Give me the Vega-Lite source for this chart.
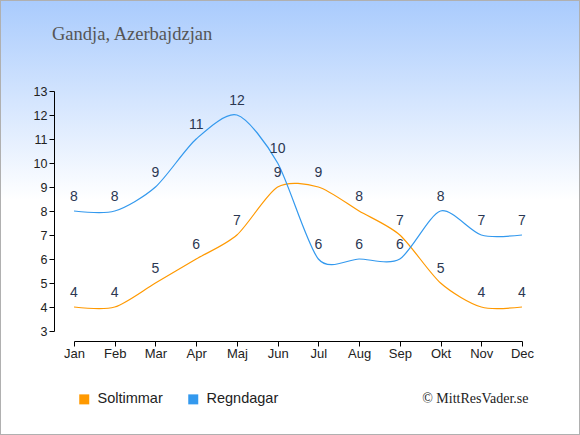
{
  "$schema": "https://vega.github.io/schema/vega-lite/v6.json",
  "width": 448,
  "height": 240,
  "autosize": {"type": "none"},
  "padding": {"left": 74, "top": 91, "right": 58, "bottom": 104},
  "background": "white",
  "title": {
    "text": "Gandja, Azerbajdzjan",
    "anchor": "start",
    "frame": "group",
    "font": "Liberation Serif",
    "fontSize": 18.5,
    "fontWeight": "normal",
    "color": "#555555",
    "dx": -22,
    "offset": -59,
    "baseline": "alphabetic",
    "zindex": 1
  },
  "config": {"view": {"stroke": null}},
  "data": {
    "values": [
      {"m": 1, "month": "Jan", "serie": "Soltimmar", "value": 4},
      {"m": 2, "month": "Feb", "serie": "Soltimmar", "value": 4},
      {"m": 3, "month": "Mar", "serie": "Soltimmar", "value": 5},
      {"m": 4, "month": "Apr", "serie": "Soltimmar", "value": 6},
      {"m": 5, "month": "Maj", "serie": "Soltimmar", "value": 7},
      {"m": 6, "month": "Jun", "serie": "Soltimmar", "value": 9},
      {"m": 7, "month": "Jul", "serie": "Soltimmar", "value": 9},
      {"m": 8, "month": "Aug", "serie": "Soltimmar", "value": 8},
      {"m": 9, "month": "Sep", "serie": "Soltimmar", "value": 7},
      {"m": 10, "month": "Okt", "serie": "Soltimmar", "value": 5},
      {"m": 11, "month": "Nov", "serie": "Soltimmar", "value": 4},
      {"m": 12, "month": "Dec", "serie": "Soltimmar", "value": 4},
      {"m": 1, "month": "Jan", "serie": "Regndagar", "value": 8},
      {"m": 2, "month": "Feb", "serie": "Regndagar", "value": 8},
      {"m": 3, "month": "Mar", "serie": "Regndagar", "value": 9},
      {"m": 4, "month": "Apr", "serie": "Regndagar", "value": 11},
      {"m": 5, "month": "Maj", "serie": "Regndagar", "value": 12},
      {"m": 6, "month": "Jun", "serie": "Regndagar", "value": 10},
      {"m": 7, "month": "Jul", "serie": "Regndagar", "value": 6},
      {"m": 8, "month": "Aug", "serie": "Regndagar", "value": 6},
      {"m": 9, "month": "Sep", "serie": "Regndagar", "value": 6},
      {"m": 10, "month": "Okt", "serie": "Regndagar", "value": 8},
      {"m": 11, "month": "Nov", "serie": "Regndagar", "value": 7},
      {"m": 12, "month": "Dec", "serie": "Regndagar", "value": 7}
    ]
  },
  "layer": [
    {
      "data": {"values": [{}]},
      "mark": {
        "type": "rect",
        "fill": {
          "gradient": "linear",
          "x1": 0, "y1": 0, "x2": 0, "y2": 1,
          "stops": [
            {"offset": 0, "color": "#a9cbfd"},
            {"offset": 0.46, "color": "#ffffff"},
            {"offset": 1, "color": "#ffffff"}
          ]
        },
        "stroke": "#b0b0b0",
        "strokeWidth": 2
      },
      "encoding": {
        "x": {
          "datum": -0.817, "type": "quantitative",
          "scale": {"domain": [1, 12], "nice": false, "zero": false},
          "axis": {
            "values": [1, 2, 3, 4, 5, 6, 7, 8, 9, 10, 11, 12],
            "labelExpr": "['Jan','Feb','Mar','Apr','Maj','Jun','Jul','Aug','Sep','Okt','Nov','Dec'][datum.value - 1]",
            "offset": 10, "tickSize": 5, "labelPadding": 1, "labelAngle": 0,
            "labelFlush": false, "labelOverlap": false,
            "labelFont": "Liberation Sans", "labelFontSize": 13, "labelColor": "#222222",
            "domainColor": "#000000", "tickColor": "#000000", "grid": false, "zindex": 1,
            "title": "© MittResVader.se", "titleX": 454, "titleY": 57, "titleAlign": "right", "titleBaseline": "middle",
            "titleFont": "Liberation Serif", "titleFontSize": 14, "titleFontWeight": "normal", "titleColor": "#222222"
          }
        },
        "x2": {"datum": 13.424},
        "y": {
          "datum": 16.79, "type": "quantitative",
          "scale": {"domain": [3, 13], "nice": false, "zero": false},
          "axis": {
            "values": [3, 4, 5, 6, 7, 8, 9, 10, 11, 12, 13],
            "offset": 20, "tickSize": 5, "labelPadding": 2,
            "labelFlush": false, "labelOverlap": false,
            "labelFont": "Liberation Sans", "labelFontSize": 12.5, "labelColor": "#222222",
            "domainColor": "#000000", "tickColor": "#000000", "grid": false, "zindex": 1, "title": null
          }
        },
        "y2": {"datum": -1.333}
      }
    },
    {
      "mark": {"type": "line", "interpolate": "cardinal", "tension": 0.2, "strokeWidth": 1.2},
      "encoding": {
        "x": {
          "field": "m", "type": "quantitative",
          "scale": {"domain": [1, 12], "nice": false, "zero": false},
          "axis": {
            "values": [1, 2, 3, 4, 5, 6, 7, 8, 9, 10, 11, 12],
            "labelExpr": "['Jan','Feb','Mar','Apr','Maj','Jun','Jul','Aug','Sep','Okt','Nov','Dec'][datum.value - 1]",
            "offset": 10, "tickSize": 5, "labelPadding": 1, "labelAngle": 0,
            "labelFlush": false, "labelOverlap": false,
            "labelFont": "Liberation Sans", "labelFontSize": 13, "labelColor": "#222222",
            "domainColor": "#000000", "tickColor": "#000000", "grid": false, "zindex": 1,
            "title": "© MittResVader.se", "titleX": 454, "titleY": 57, "titleAlign": "right", "titleBaseline": "middle",
            "titleFont": "Liberation Serif", "titleFontSize": 14, "titleFontWeight": "normal", "titleColor": "#222222"
          }
        },
        "y": {
          "field": "value", "type": "quantitative",
          "scale": {"domain": [3, 13], "nice": false, "zero": false},
          "axis": {
            "values": [3, 4, 5, 6, 7, 8, 9, 10, 11, 12, 13],
            "offset": 20, "tickSize": 5, "labelPadding": 2,
            "labelFlush": false, "labelOverlap": false,
            "labelFont": "Liberation Sans", "labelFontSize": 12.5, "labelColor": "#222222",
            "domainColor": "#000000", "tickColor": "#000000", "grid": false, "zindex": 1, "title": null
          }
        },
        "color": {
          "field": "serie",
          "type": "nominal",
          "scale": {"domain": ["Soltimmar", "Regndagar"], "range": ["#ff9900", "#3399ee"]},
          "legend": {
            "orient": "none",
            "legendX": 3,
            "legendY": 301,
            "direction": "horizontal",
            "title": null,
            "padding": 0,
            "symbolType": "square",
            "symbolSize": 100,
            "labelFont": "Liberation Sans",
            "labelFontSize": 14.5,
            "labelColor": "#222222",
            "labelOffset": 6,
            "columnPadding": 23,
            "zindex": 1,
            "encode": {
              "symbols": {
                "update": {
                  "fill": {"scale": "color", "field": "value"},
                  "strokeWidth": {"value": 0},
                  "opacity": {"value": 1}
                }
              }
            }
          }
        }
      }
    },
    {
      "mark": {"type": "text", "dy": -14, "font": "Liberation Sans", "fontSize": 14, "fill": "#2b3752", "baseline": "middle"},
      "encoding": {
        "x": {
          "field": "m", "type": "quantitative",
          "scale": {"domain": [1, 12], "nice": false, "zero": false},
          "axis": {
            "values": [1, 2, 3, 4, 5, 6, 7, 8, 9, 10, 11, 12],
            "labelExpr": "['Jan','Feb','Mar','Apr','Maj','Jun','Jul','Aug','Sep','Okt','Nov','Dec'][datum.value - 1]",
            "offset": 10, "tickSize": 5, "labelPadding": 1, "labelAngle": 0,
            "labelFlush": false, "labelOverlap": false,
            "labelFont": "Liberation Sans", "labelFontSize": 13, "labelColor": "#222222",
            "domainColor": "#000000", "tickColor": "#000000", "grid": false, "zindex": 1,
            "title": "© MittResVader.se", "titleX": 454, "titleY": 57, "titleAlign": "right", "titleBaseline": "middle",
            "titleFont": "Liberation Serif", "titleFontSize": 14, "titleFontWeight": "normal", "titleColor": "#222222"
          }
        },
        "y": {
          "field": "value", "type": "quantitative",
          "scale": {"domain": [3, 13], "nice": false, "zero": false},
          "axis": {
            "values": [3, 4, 5, 6, 7, 8, 9, 10, 11, 12, 13],
            "offset": 20, "tickSize": 5, "labelPadding": 2,
            "labelFlush": false, "labelOverlap": false,
            "labelFont": "Liberation Sans", "labelFontSize": 12.5, "labelColor": "#222222",
            "domainColor": "#000000", "tickColor": "#000000", "grid": false, "zindex": 1, "title": null
          }
        },
        "text": {"field": "value", "type": "quantitative"}
      }
    }
  ]
}
